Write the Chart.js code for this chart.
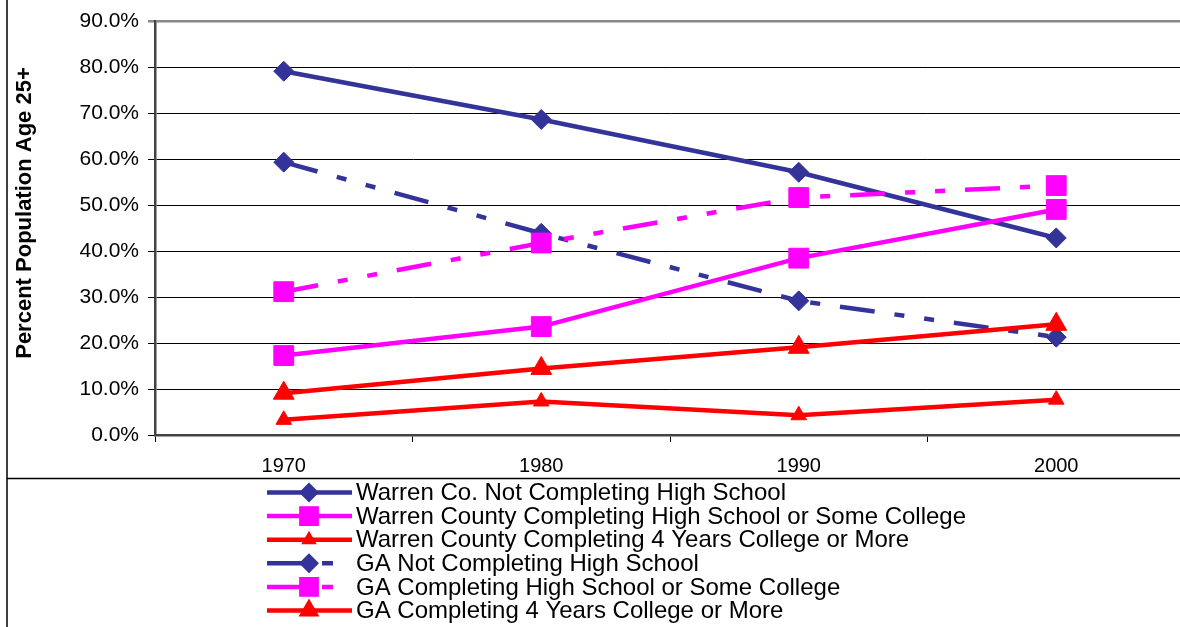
<!DOCTYPE html>
<html>
<head>
<meta charset="utf-8">
<script src="https://cdn.jsdelivr.net/npm/chart.js@4.4.0/dist/chart.umd.min.js"></script>
<style>
	html, body { margin: 0; padding: 0; background: #fff; overflow: hidden; }
	#wrap { width: 1200px; height: 627px; }
</style>
</head>
<body>
<div id="wrap"><canvas id="chart" width="1200" height="627"></canvas></div>
<script>
// Datos (porcentaje de poblacion 25+)
const years = ['1970', '1980', '1990', '2000']
const warrenNotHS = [79.2, 68.7, 57.2, 42.9]
const warrenHS = [17.3, 23.6, 38.5, 49.1]
const warren4yr = [3.3, 7.3, 4.3, 7.7]
const gaNotHS = [59.4, 43.9, 29.2, 21.3]
const gaHS = [31.2, 41.8, 51.7, 54.3]
const ga4yr = [9.1, 14.5, 19.1, 24.1]
const yTicks = [0, 10, 20, 30, 40, 50, 60, 70, 80, 90]

const navy = '#333399'
const magenta = '#FF00FF'
const red = '#FF0000'
const dash = [35, 20, 10, 20, 10, 20]

function serie(label, data, color, style, radius, dashed) {
	return {
		label: label,
		data: data,
		borderColor: color,
		backgroundColor: color,
		borderWidth: 4.5,
		borderDash: dashed ? dash : [],
		pointStyle: style,
		pointRadius: radius,
		pointHoverRadius: radius,
		pointBorderWidth: 1,
		pointBorderColor: color,
		pointBackgroundColor: color,
		tension: 0,
	}
}

const datasets = [
	serie('Warren Co. Not Completing High School', warrenNotHS, navy, 'rectRot', 10, false),
	serie('Warren County Completing High School or Some College', warrenHS, magenta, 'rect', 14, false),
	serie('Warren County Completing 4 Years College or More', warren4yr, red, 'triangle', 9, false),
	serie('GA Not Completing High School', gaNotHS, navy, 'rectRot', 10, true),
	serie('GA Completing High School or Some College', gaHS, magenta, 'rect', 14, true),
	serie('GA Completing 4 Years College or More', ga4yr, red, 'triangle', 12, false),
]
// Excel dibuja la ultima serie encima
datasets.forEach((d, i) => (d.order = datasets.length - i))

// Dibujar un marcador como los de Chart.js
function marker(ctx, style, x, y, r) {
	ctx.beginPath()
	if (style === 'rectRot') {
		ctx.moveTo(x - r, y)
		ctx.lineTo(x, y - r)
		ctx.lineTo(x + r, y)
		ctx.lineTo(x, y + r)
	} else if (style === 'rect') {
		const s = Math.SQRT1_2 * r
		ctx.rect(x - s, y - s, 2 * s, 2 * s)
	} else {
		const w = r * Math.sqrt(3) / 2
		ctx.moveTo(x, y - r)
		ctx.lineTo(x + w, y + r / 2)
		ctx.lineTo(x - w, y + r / 2)
	}
	ctx.closePath()
	ctx.fill()
}

// Marco, titulo del eje y leyenda
const extras = {
	id: 'extras',
	afterDraw(chart) {
		const ctx = chart.ctx
		ctx.save()
		ctx.strokeStyle = '#000'
		ctx.lineWidth = 1.5
		ctx.beginPath()
		ctx.moveTo(7, 0)
		ctx.lineTo(7, 627)
		ctx.moveTo(7, 478.5)
		ctx.lineTo(1200, 478.5)
		ctx.stroke()

		// titulo vertical
		ctx.save()
		ctx.translate(25, 213)
		ctx.rotate(-Math.PI / 2)
		ctx.fillStyle = '#000'
		ctx.font = 'bold 22px "Liberation Sans", Arial, sans-serif'
		ctx.textAlign = 'center'
		ctx.textBaseline = 'middle'
		ctx.fillText('Percent Population Age 25+', 0, 0)
		ctx.restore()

		// leyenda
		datasets.forEach((d, i) => {
			const y = 492.5 + i * 23.6
			ctx.strokeStyle = d.borderColor
			ctx.fillStyle = d.borderColor
			ctx.lineWidth = 4.5
			ctx.setLineDash(d.borderDash.length ? [50, 5, 11, 30] : [])
			ctx.beginPath()
			ctx.moveTo(267, y)
			ctx.lineTo(352, y)
			ctx.stroke()
			ctx.setLineDash([])
			marker(ctx, d.pointStyle, 309, y, d.pointRadius)
			ctx.fillStyle = '#000'
			ctx.font = '24px "Liberation Sans", Arial, sans-serif'
			ctx.textAlign = 'left'
			ctx.textBaseline = 'middle'
			ctx.fillText(d.label, 356, y + 1)
		})
		ctx.restore()
	},
}

const ctx = document.getElementById('chart').getContext('2d')
const chart = new Chart(ctx, {
	type: 'line',
	data: {
		labels: years,
		datasets: datasets,
	},
	options: {
		responsive: false,
		animation: false,
		devicePixelRatio: 1,
		layout: {
			padding: { left: 0, right: 0, top: 19, bottom: 149 },
		},
		plugins: {
			legend: { display: false },
			tooltip: { enabled: false },
		},
		scales: {
			x: {
				offset: true,
				grid: {
					offset: true,
					drawOnChartArea: false,
					tickLength: 7,
					color: '#000',
				},
				border: { color: '#444', width: 2.5 },
				ticks: {
					color: '#000',
					padding: 12,
					font: { family: '"Liberation Sans", Arial, sans-serif', size: 20 },
					maxRotation: 0,
				},
				afterFit: (scale) => {
					scale.height = 43
				},
			},
			y: {
				min: 0,
				max: 90,
				afterBuildTicks: (scale) => {
					scale.ticks = yTicks.map((v) => ({ value: v }))
				},
				grid: {
					tickLength: 7,
					color: (c) => (c.tick && c.tick.value === 90 ? '#888' : '#000'),
					lineWidth: (c) => (c.tick && c.tick.value === 90 ? 2.5 : 1),
				},
				border: { color: '#444', width: 2.5 },
				ticks: {
					color: '#000',
					padding: 9,
					font: { family: '"Liberation Sans", Arial, sans-serif', size: 21 },
					callback: (v) => v.toFixed(1) + '%',
				},
				afterFit: (scale) => {
					scale.width = 155
				},
			},
		},
	},
	plugins: [extras],
})
</script>
</body>
</html>
